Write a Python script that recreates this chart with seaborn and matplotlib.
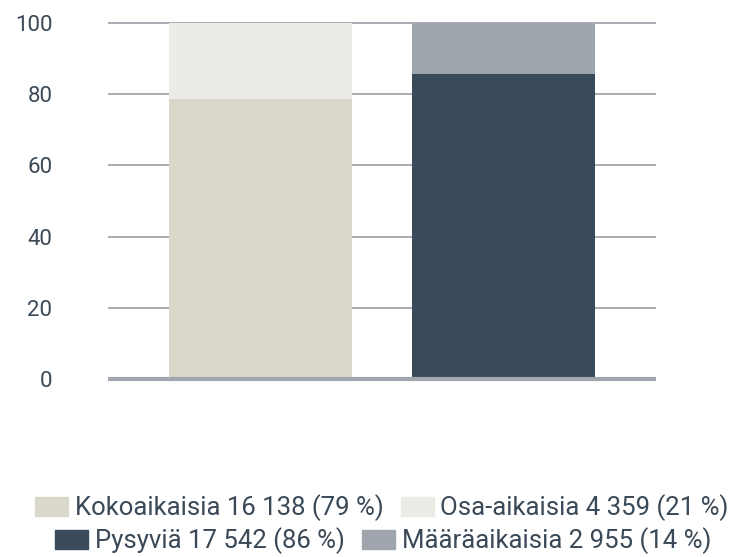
import matplotlib
matplotlib.use("Agg")
import matplotlib.pyplot as plt
import seaborn as sns
import pandas as pd
from matplotlib.patches import Patch

categories = ["Työaika", "Työsuhde"]
bottom_labels = ["Kokoaikaisia 16 138 (79 %)", "Pysyviä 17 542 (86 %)"]
top_labels = ["Osa-aikaisia 4 359 (21 %)", "Määräaikaisia 2 955 (14 %)"]
bottom_values = [78.7, 85.6]
top_values = [21.3, 14.4]
bottom_colors = ["#DAD8CB", "#394B5A"]
top_colors = ["#ECEBE5", "#9EA5AC"]
yticks = [0, 20, 40, 60, 80, 100]

sns.set_theme(style="white")
plt.rcParams["font.family"] = ["Roboto", "DejaVu Sans"]

df = pd.DataFrame({
    "cat": categories,
    "bottom": bottom_values,
    "total": [b + t for b, t in zip(bottom_values, top_values)],
})

fig = plt.figure(figsize=(7.36, 5.57), dpi=100)
ax = fig.add_axes([108/736, 1-379/557, (656-108)/736, (379-23)/557])

grid_c = "#A0A7AE"
text_c = "#3A4957"
for y in yticks[1:]:
    ax.axhline(y, color=grid_c, lw=1.3, zorder=0, clip_on=False,
               solid_capstyle="butt")

sns.barplot(data=df, x="cat", y="total", hue="cat", palette=top_colors,
            width=0.753, dodge=False, legend=False, ax=ax, zorder=2,
            saturation=1, linewidth=0)
sns.barplot(data=df, x="cat", y="bottom", hue="cat", palette=bottom_colors,
            width=0.753, dodge=False, legend=False, ax=ax, zorder=3,
            saturation=1, linewidth=0)
ax.axhline(0, color=grid_c, lw=3.0, zorder=4, clip_on=False,
           solid_capstyle="butt")

ax.set_xlim(-0.63, 1.63)
ax.set_ylim(0, 100)
ax.set_yticks(yticks)
ax.set_yticklabels([str(v) for v in yticks], fontsize=16, color=text_c)
ax.tick_params(axis="y", length=0, pad=40)
ax.set_xticks([])
ax.set_xlabel("")
ax.set_ylabel("")
for s in ax.spines.values():
    s.set_visible(False)

row1 = [Patch(color=bottom_colors[0], label=bottom_labels[0]),
        Patch(color=top_colors[0], label=top_labels[0])]
row2 = [Patch(color=bottom_colors[1], label=bottom_labels[1]),
        Patch(color=top_colors[1], label=top_labels[1])]
common = dict(ncol=2, frameon=False, handlelength=1.28,
              handleheight=0.72, handletextpad=0.27, columnspacing=0.66,
              labelcolor=text_c, prop={"family": ["Roboto", "DejaVu Sans"],
                                       "size": 18.5})
leg1 = fig.legend(handles=row1, loc="center", bbox_to_anchor=(382/736, 1-508/557), **common)
leg2 = fig.legend(handles=row2, loc="center", bbox_to_anchor=(383/736, 1-541/557), **common)

fig.savefig("out.png", dpi=100)
